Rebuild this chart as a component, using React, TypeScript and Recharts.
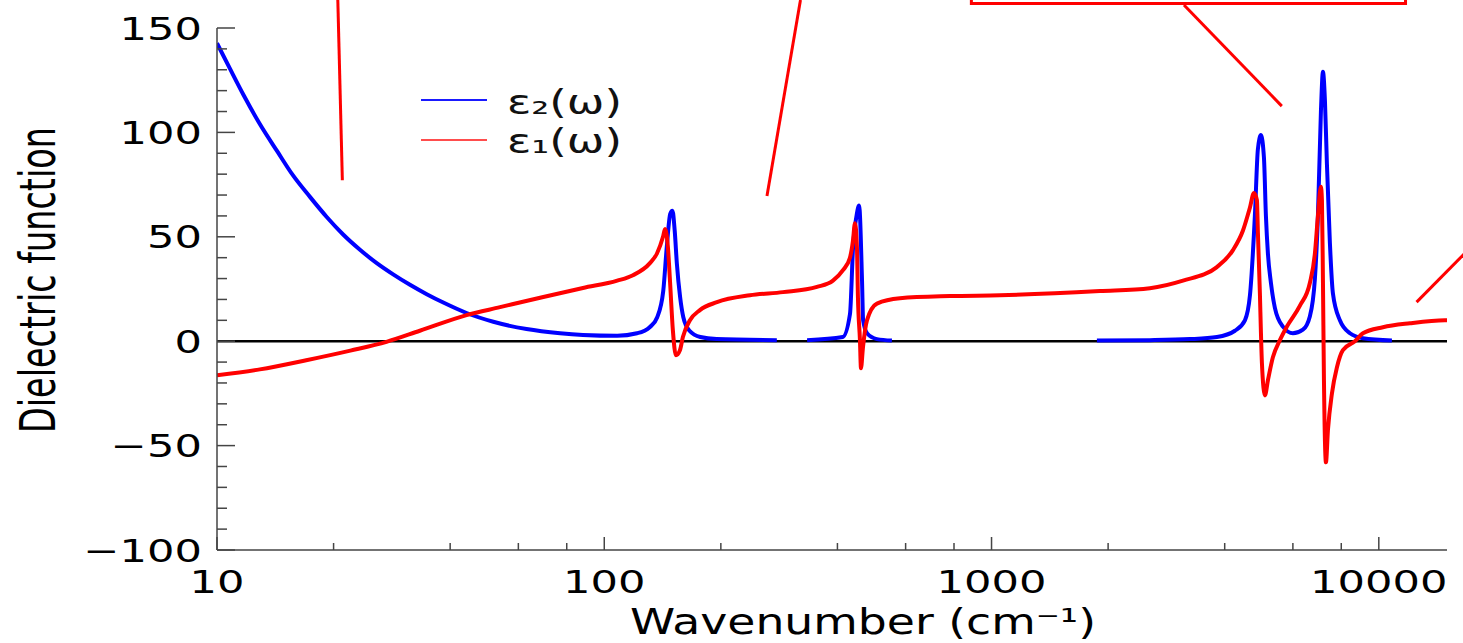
import React from 'react';
import { LineChart, Line, XAxis, YAxis, ReferenceLine, ReferenceArea, Legend } from 'recharts';

// ε2(ω) – imaginary part (blue)
const e2Wavenumber = [10, 10.8, 11.7, 12.9, 14.3, 15.7, 17.4, 19.2, 21.2, 23.4, 25.8, 28.5, 31.5, 34.8, 38.4, 44.1, 51.7, 63, 76.9, 88.1, 108, 121.5, 131, 137, 142, 145, 148, 150, 152, 154, 157, 160, 166, 177, 195, 279, 290, 334, 413, 431, 439, 449, 455, 463, 466, 477, 506, 553, 600, 1871, 2564, 3253, 3819, 4251, 4511, 4648, 4786, 4873, 4962, 5051, 5111, 5172, 5265, 5391, 5654, 6001, 6368, 6639, 6839, 6963, 7088, 7174, 7260, 7345, 7477, 7611, 7935, 8423, 9100, 10810];
const e2Values = [142.7, 130.5, 118, 104, 91, 79.5, 69, 59.5, 51, 43.8, 37.5, 32, 27, 22.5, 18.5, 13.5, 9.3, 5.8, 3.8, 3.0, 2.6, 3.8, 6.7, 11.5, 24, 45, 61, 62.5, 53, 37, 21, 11.5, 5, 2, 1, 0.5, null, 0.5, 2, 13, 45, 61, 65, 29, 10, 3.8, 1, 0.3, null, 0.3, 0.5, 1, 2, 5, 10, 22, 60, 92, 98.7, 88, 60, 42, 28, 16, 7, 3.8, 5.5, 12, 30, 60, 110, 129, 115, 85, 47, 23, 10, 3.8, 1.4, 0.3];

// ε1(ω) – real part (red)
const e1Wavenumber = [10, 12.9, 17, 22.1, 27.4, 33.4, 44.1, 53.8, 69.6, 88.1, 108, 118.6, 131.2, 136.8, 141.8, 143.5, 146, 147.8, 150.4, 153.1, 156.8, 159.6, 166.4, 176.6, 195.4, 237.8, 289.3, 354.2, 389.5, 413.4, 430.9, 438.6, 444, 449.2, 451.9, 457.3, 460.1, 465.6, 476.8, 505.9, 580, 780.8, 1051, 1905, 2564, 3121, 3819, 4201, 4459, 4648, 4760, 4845, 4873, 4931, 4962, 4991, 5081, 5172, 5327, 5554, 5790, 6257, 6639, 6839, 6963, 7088, 7131, 7174, 7217, 7303, 7390, 7568, 7797, 8077, 8676, 9100, 10247, 12032, 14815, 15000];
const e1Values = [-16.3, -13.5, -9.1, -4.5, -0.3, 5, 12.5, 16.3, 21.2, 25.5, 29, 31.6, 37.4, 42, 50, 53.7, 45, 29, 5, -6.7, -4.3, 2, 10, 14.9, 18.7, 22, 23.5, 26, 29, 34, 40, 48, 56.5, 45, 21, 0.5, -13, -2.9, 10, 18, 20.6, 21.6, 22, 24, 25.4, 29, 35.5, 43.6, 53, 64, 71, 67.6, 52, 23, 4, -10.5, -26, -18.7, -7.7, 0.5, 7, 17, 28, 42, 60, 74, 67.6, 29, -18.7, -58, -42.6, -25, -12.5, -4.3, 0, 3.8, 6.7, 8.6, 10, 10];

const seriesNames = ['ε₂(ω)', 'ε₁(ω)'];
const seriesColors = ['#0000ff', '#ff0000'];
const legendLineColors = ['#1a1aff', '#ff4d4d'];

const xTicks = [10, 20, 40, 60, 80, 100, 200, 400, 600, 800, 1000, 2000, 4000, 6000, 8000, 10000];
const xMajor = [10, 100, 1000, 10000];
const xMajorLabels = ['10', '100', '1000', '10000'];
const yTicks = [-100, -90, -80, -70, -60, -50, -40, -30, -20, -10, 0, 10, 20, 30, 40, 50, 60, 70, 80, 90, 100, 110, 120, 130, 140, 150];
const yMajor = [-100, -50, 0, 50, 100, 150];
const yMajorLabels = ['−100', '−50', '0', '50', '100', '150'];

// red callout remnants (data coordinates)
const calloutSegments = [
  [{ x: 20.51, y: 163.4 }, { x: 21.07, y: 77.1 }],
  [{ x: 321.1, y: 163.4 }, { x: 263.1, y: 69.5 }],
  [{ x: 3140, y: 161 }, { x: 5618, y: 112.6 }],
  [{ x: 12518, y: 18.7 }, { x: 18240, y: 49.4 }],
];
const calloutBox = { x1: 887, x2: 11722, y1: 161.7, y2: 190 };

const e2Data = e2Wavenumber.map((w, i) => ({ w, v: e2Values[i] }));
const e1Data = e1Wavenumber.map((w, i) => ({ w, v: e1Values[i] }));

const FRAME = '#454545';
const FONT = 'DejaVu Sans';

const tickBottom = (p: any) => {
  const v = p.payload.value;
  const mi = xMajor.indexOf(v);
  const major = mi >= 0;
  return (
    <g>
      <line x1={p.x} x2={p.x} y1={p.y} y2={p.y - (major ? 13 : 7)} stroke={FRAME} strokeWidth={1.5} />
      {major && (
        <text transform={`translate(${p.x},${p.y + 43}) scale(1.35,1)`} textAnchor="middle" fontFamily={FONT} fontSize={32} fill="#000">
          {xMajorLabels[mi]}
        </text>
      )}
    </g>
  );
};

const tickTop = (p: any) => {
  const major = xMajor.indexOf(p.payload.value) >= 0;
  return <line x1={p.x} x2={p.x} y1={p.y} y2={p.y + (major ? 13 : 7)} stroke={FRAME} strokeWidth={1.5} />;
};

const tickLeft = (p: any) => {
  const v = p.payload.value;
  const mi = yMajor.indexOf(v);
  const major = mi >= 0;
  return (
    <g>
      <line x1={p.x} x2={p.x + (major ? 18 : 10)} y1={p.y} y2={p.y} stroke={FRAME} strokeWidth={1.5} />
      {major && (
        <text transform={`translate(${p.x - 15},${p.y + 11.5}) scale(1.35,1)`} textAnchor="end" fontFamily={FONT} fontSize={32} fill="#000">
          {yMajorLabels[mi]}
        </text>
      )}
    </g>
  );
};

const tickRight = (p: any) => {
  const major = yMajor.indexOf(p.payload.value) >= 0;
  return <line x1={p.x} x2={p.x - (major ? 18 : 10)} y1={p.y} y2={p.y} stroke={FRAME} strokeWidth={1.5} />;
};

const yLabel = () => (
  <text transform="translate(55,280) scale(1.47,1) rotate(-90)" textAnchor="middle" fontFamily={FONT} fontSize={34} fill="#000" textLength={306} lengthAdjust="spacingAndGlyphs">
    Dielectric function
  </text>
);

const xLabel = () => (
  <text x={630} y={634} fontFamily={FONT} fontSize={35} fill="#000" textLength={466} lengthAdjust="spacingAndGlyphs">
    Wavenumber (cm⁻¹)
  </text>
);

const legendContent = (props: any) => {
  const payload: any[] = props.payload || [];
  return (
    <svg width={700} height={180} style={{ display: 'block', overflow: 'visible' }}>
      {seriesNames.map((name, i) => {
        const entry = payload.find((e) => e.value === name);
        const label = entry ? entry.value : name;
        const ly = i === 0 ? 100 : 140;
        const ty = i === 0 ? 114 : 153;
        return (
          <g key={i}>
            <line x1={421} x2={487} y1={ly} y2={ly} stroke={legendLineColors[i]} strokeWidth={2} />
            <text x={507} y={ty} fontFamily={FONT} fontSize={33} fill="#111" textLength={115} lengthAdjust="spacingAndGlyphs">
              {label}
            </text>
          </g>
        );
      })}
    </svg>
  );
};

export default function App() {
  return (
    <div style={{ position: 'absolute', left: 0, top: 0, width: 1463, height: 643, background: '#fff' }}>
      <LineChart width={1463} height={643} margin={{ top: 28, right: 16, bottom: 0, left: 0 }}>
        <XAxis
          xAxisId={0}
          dataKey="w"
          type="number"
          scale="log"
          domain={[10, 15000]}
          allowDataOverflow
          ticks={xTicks}
          interval={0}
          height={93}
          tickSize={0}
          tickMargin={0}
          tickLine={false}
          axisLine={{ stroke: FRAME, strokeWidth: 1.5 }}
          tick={tickBottom}
          label={xLabel}
        />
        <XAxis
          xAxisId="top"
          orientation="top"
          dataKey="w"
          type="number"
          scale="log"
          domain={[10, 15000]}
          allowDataOverflow
          ticks={xTicks}
          interval={0}
          height={0}
          tickSize={0}
          tickMargin={0}
          tickLine={false}
          axisLine={{ stroke: FRAME, strokeWidth: 1.5 }}
          tick={tickTop}
        />
        <YAxis
          yAxisId={0}
          type="number"
          domain={[-100, 150]}
          allowDataOverflow
          ticks={yTicks}
          interval={0}
          width={217}
          tickSize={0}
          tickMargin={0}
          tickLine={false}
          axisLine={{ stroke: FRAME, strokeWidth: 1.5 }}
          tick={tickLeft}
          label={yLabel}
        />
        <YAxis
          yAxisId="right"
          orientation="right"
          type="number"
          domain={[-100, 150]}
          allowDataOverflow
          ticks={yTicks}
          interval={0}
          width={0}
          tickSize={0}
          tickMargin={0}
          tickLine={false}
          axisLine={{ stroke: FRAME, strokeWidth: 1.5 }}
          tick={tickRight}
        />
        <Legend
          layout="vertical"
          align="center"
          verticalAlign="middle"
          wrapperStyle={{ position: 'absolute', left: 0, top: 0, width: 700, height: 180, margin: 0, padding: 0 }}
          content={legendContent}
        />
        <ReferenceLine y={0} stroke="#000" strokeWidth={2.5} />
        <Line
          data={e2Data}
          dataKey="v"
          name={seriesNames[0]}
          stroke={seriesColors[0]}
          strokeWidth={4}
          dot={false}
          type="monotone"
          connectNulls={false}
          isAnimationActive={false}
        />
        <Line
          data={e1Data}
          dataKey="v"
          name={seriesNames[1]}
          stroke={seriesColors[1]}
          strokeWidth={4}
          dot={false}
          type="monotone"
          isAnimationActive={false}
        />
        {calloutSegments.map((seg, i) => (
          <ReferenceLine key={i} segment={seg} stroke="#ff0000" strokeWidth={3} ifOverflow="visible" />
        ))}
        <ReferenceArea
          x1={calloutBox.x1}
          x2={calloutBox.x2}
          y1={calloutBox.y1}
          y2={calloutBox.y2}
          fill="none"
          fillOpacity={0}
          stroke="#ff0000"
          strokeWidth={3}
          ifOverflow="visible"
        />
      </LineChart>
    </div>
  );
}
